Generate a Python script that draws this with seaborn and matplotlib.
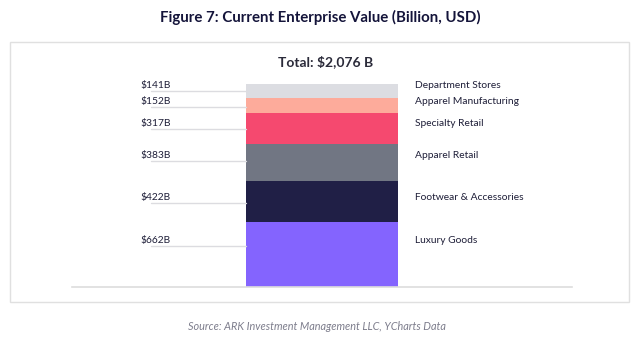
import matplotlib
matplotlib.use("Agg")
import matplotlib.pyplot as plt
from matplotlib.patches import Rectangle
import seaborn as sns
import pandas as pd
import numpy as np

# ---- data (bottom to top) ----
segments = ["Luxury Goods", "Footwear & Accessories", "Apparel Retail",
            "Specialty Retail", "Apparel Manufacturing", "Department Stores"]
values = [662, 422, 383, 317, 152, 141]
value_labels = ["$662B", "$422B", "$383B", "$317B", "$152B", "$141B"]
total_label = "Total: $2,076 B"
title = "Figure 7: Current Enterprise Value (Billion, USD)"
source = "Source: ARK Investment Management LLC, YCharts Data"

colors = ["#8464fe", "#201f46", "#717683", "#f5496f", "#fdab9b", "#dcdde2"]
# layout: shift of label leader line from segment centre (data units)
label_shift = [88, -14, 13, -9, -20, -2]

W, H = 637, 343
sns.set_theme(style="white")
plt.rcParams['font.family'] = ['Lato', 'DejaVu Sans']
text_color = "#1e1e38"

fig = plt.figure(figsize=(W / 100, H / 100), dpi=100)

# outer frame
fig.patches.append(Rectangle((9.5 / W, 1 - 302 / H), (628.5 - 9.5) / W, (302 - 41.5) / H,
                             transform=fig.transFigure, fill=False,
                             edgecolor="#e0e0e0", linewidth=1.0))

ax = fig.add_axes([72 / W, 1 - 287 / H, 500 / W, (287 - 84) / H])

cum = np.cumsum(values)
df = pd.DataFrame({"g": ["EV"] * len(segments), "segment": segments, "cum": cum})
order = segments[::-1]  # draw largest cumulative first
pal = dict(zip(segments, colors))
sns.barplot(data=df, x="g", y="cum", hue="segment", hue_order=order,
            palette=pal, dodge=False, width=0.8, saturation=1, ax=ax,
            legend=False, edgecolor="none", linewidth=0)

total = cum[-1]
ax.set_ylim(0, total)
ax.set_xlim(-1.3158, 1.3158)
ax.set_xlabel("")
ax.set_ylabel("")
ax.set_xticks([])
ax.set_yticks([])
for s in ["top", "left", "right"]:
    ax.spines[s].set_visible(False)
ax.spines["bottom"].set_color("#dddddd")
ax.spines["bottom"].set_linewidth(1.2)

starts = cum - np.array(values)
for i, seg in enumerate(segments):
    yc = starts[i] + values[i] / 2 + label_shift[i]
    ax.plot([-0.90, -0.4], [yc, yc], color="#dcdce0", linewidth=1.0,
            clip_on=False, zorder=1)
    ax.text(-0.958, yc + 12, value_labels[i], ha="left", va="bottom",
            fontsize=7.4, color=text_color)
    ax.text(0.489, yc + 12, seg, ha="left", va="bottom",
            fontsize=7.4, color=text_color)

fig.text(326 / W, 1 - 62 / H, total_label, ha="center", va="center",
         fontsize=10, fontweight="bold", color="#2b2b3a")
fig.text(320 / W, 1 - 17 / H, title, ha="center", va="center",
         fontsize=10.8, fontweight="bold", color="#14143a")
fig.text(317 / W, 1 - 326 / H, source, ha="center", va="center",
         fontsize=7.8, style="italic", color="#7d7d8c")

fig.savefig("out.png", dpi=100)
